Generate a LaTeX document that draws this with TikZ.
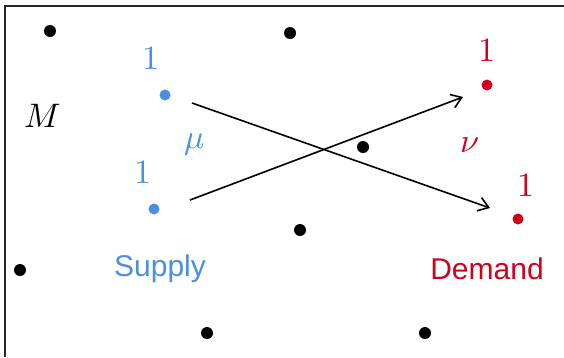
\documentclass[tikz,border=0pt]{standalone}
\usepackage{fontspec}
\usepackage{unicode-math}
\setmathfont{Latin Modern Math}
\newfontfamily\sansf{Liberation Sans}
\usetikzlibrary{arrows.meta}
\definecolor{sblue}{RGB}{74,144,226}
\definecolor{dred}{RGB}{208,2,27}
\begin{document}
\begin{tikzpicture}[x=1pt,y=-1pt,
  bdot/.style={circle,fill=black,inner sep=0pt,minimum size=12pt},
  sdot/.style={circle,fill=sblue,inner sep=0pt,minimum size=11pt},
  ddot/.style={circle,fill=dred,inner sep=0pt,minimum size=11pt},
  big/.style={inner sep=0pt,font=\fontsize{34}{38}\selectfont},
  lab/.style={inner sep=0pt,font=\sansf\fontsize{30}{34}\selectfont},
  flow/.style={line width=1.6pt,-{Straight Barb[length=10pt,width=14pt,line width=1.6pt]}}]
\useasboundingbox (0,0) rectangle (564,357);
\draw[line width=2pt,draw=black!85] (5,357) -- (5,6) -- (564,6);
% black dots
\node[bdot] (k1) at (50,31) {};
\node[bdot] (k2) at (290,33) {};
\node[bdot] (k3) at (363,147) {};
\node[bdot] (k4) at (300,230) {};
\node[bdot] (k5) at (20,270) {};
\node[bdot] (k6) at (207,333) {};
\node[bdot] (k7) at (425,333) {};
% supply
\node[sdot] (s1) at (165,95) {};
\node[sdot] (s2) at (154,209) {};
\node[big,text=sblue] (s1l) at (151,58) {$1$};
\node[big,text=sblue] (s2l) at (143,172) {$1$};
\node[big,text=sblue] (mu) at (195,145) {$\mu$};
\node[lab,text=sblue] (sup) at (160,269) {Supply};
% demand
\node[ddot] (d1) at (487,85) {};
\node[ddot] (d2) at (518,219) {};
\node[big,text=dred] (d1l) at (487,50) {$1$};
\node[big,text=dred] (d2l) at (526,185) {$1$};
\node[big,text=dred] (nu) at (470,145) {$\nu$};
\node[lab,text=dred] (dem) at (487,269) {Demand};
\node[big] (M) at (43,116) {$M$};
% arrows
\coordinate (a1s) at (192,103);
\coordinate (a1e) at (490,208);
\coordinate (a2s) at (190,200);
\coordinate (a2e) at (463,97);
\draw[flow] (a1s) -- (a1e);
\draw[flow] (a2s) -- (a2e);
\end{tikzpicture}
\end{document}
